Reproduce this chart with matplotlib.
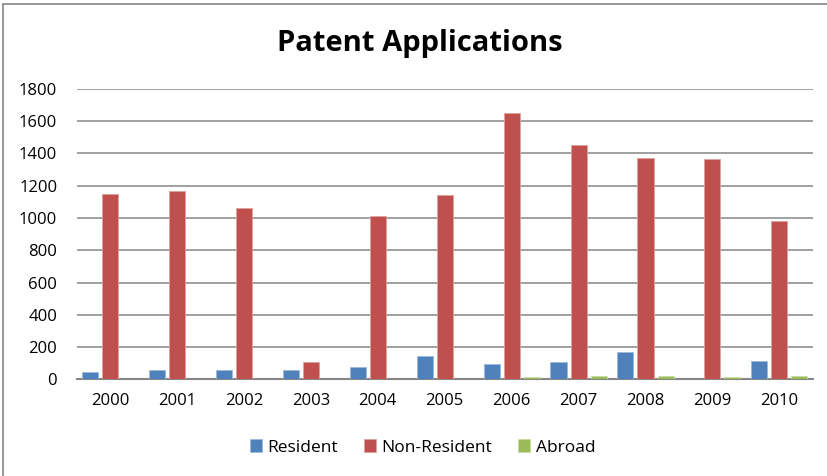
import numpy as np
import matplotlib
matplotlib.use('Agg')
from matplotlib import pyplot as plt
from matplotlib.patches import Rectangle

# data
years = ['2000', '2001', '2002', '2003', '2004', '2005',
         '2006', '2007', '2008', '2009', '2010']
resident = [45, 60, 55, 55, 74, 144, 92, 109, 170, 0, 115]
non_resident = [1150, 1170, 1060, 109, 1010, 1140, 1650, 1450, 1375, 1365, 980]
abroad = [0, 0, 0, 0, 0, 0, 14, 18, 18, 14, 18]

plt.rcParams['font.family'] = ['Open Sans', 'DejaVu Sans']

fig = plt.figure(figsize=(8.28, 4.76), dpi=100)
ax = fig.add_axes([0.0926, 0.2031, 0.889, 0.610])

# outer chart border (only left/top are visible in the crop)
fig.patches.append(Rectangle((3.5 / 828, -0.1), 1.2, 1 - 3.5 / 476 + 0.1,
                             transform=fig.transFigure, fill=False,
                             edgecolor='#868686', linewidth=1.2))

x = np.arange(len(years))
w = 0.24
off = 0.3
ax.bar(x - off, resident, w, color='#4F81BD', edgecolor='#9DB9DD', linewidth=0.6, label='Resident', zorder=3)
ax.bar(x, non_resident, w, color='#C0504D', edgecolor='#E0A09E', linewidth=0.6, label='Non-Resident', zorder=3)
ax.bar(x + off, abroad, w, color='#9BBB59', edgecolor='#CADDA6', linewidth=0.6, label='Abroad', zorder=3)

ax.set_xlim(-0.5, len(years) - 0.5)
ax.set_ylim(0, 1800)
ax.set_yticks(range(0, 1801, 200))
ax.set_xticks(x)
ax.set_xticklabels(years)
ax.yaxis.grid(True, color='#868686', linewidth=1.1, zorder=0)
ax.set_axisbelow(True)
for s in ['top', 'right', 'left']:
    ax.spines[s].set_visible(False)
ax.spines['bottom'].set_color('#868686')
ax.spines['bottom'].set_linewidth(1.5)
ax.tick_params(axis='both', length=0, labelsize=12, colors='black')
ax.tick_params(axis='y', pad=14)
ax.tick_params(axis='x', pad=10)

fig.text(0.507, 0.909, 'Patent Applications', ha='center', va='center',
         fontsize=21, fontweight='bold')

ax.legend(loc='center', bbox_to_anchor=(0.47, -0.235), ncol=3, frameon=False,
          fontsize=12.5, handlelength=0.7, handleheight=0.7, handletextpad=0.3,
          columnspacing=1.5)

plt.savefig('out.png', dpi=100)
